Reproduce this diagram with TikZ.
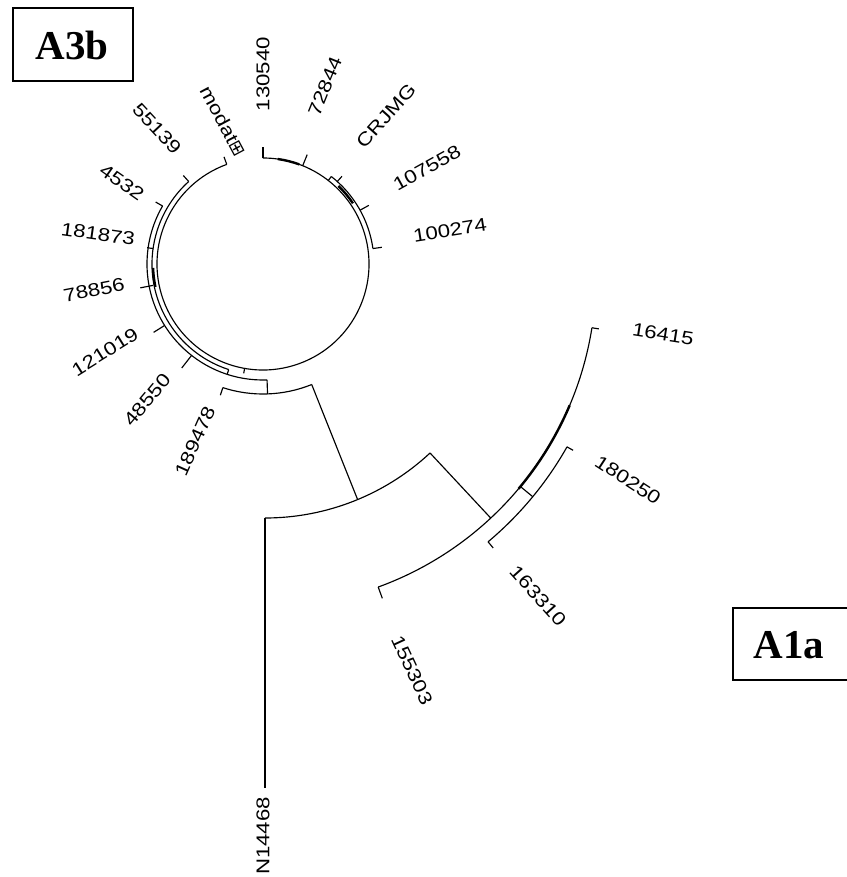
\documentclass[tikz,border=0pt]{standalone}
\usepackage{fontspec}
\newfontfamily\lblfont[FakeStretch=1.2]{Liberation Sans}
\newfontfamily\boxfont{Liberation Serif}
\newfontfamily\symfont{DejaVu Sans}
\begin{document}
\begin{tikzpicture}[x=1pt,y=1pt,
  br/.style={line width=1.15pt},
  thk/.style={line width=2.4pt},
  lbl/.style={font=\lblfont\fontsize{18.5}{20}\selectfont, inner sep=0pt},
  tagtext/.style={font=\boxfont\bfseries\fontsize{41}{41}\selectfont, inner sep=0pt},
  tagframe/.style={line width=1.6pt}]
\useasboundingbox (0,0) rectangle (846,-877);
% label boxes
\draw[tagframe] (13,-8) rectangle (133,-81);
\node[tagtext] (tA3b) at (72,-45) {A3b};
\draw[tagframe] (733,-608) rectangle (852,-680);
\node[tagtext] (tA1a) at (789,-645) {A1a};
% centres
\coordinate (C0) at (265,-276);
\coordinate (C1) at (263,-264);
% root
\coordinate (root) at ([shift={(-90:242)}]C0);
\coordinate (nleaf) at (265,-788);
\draw[br] (root) -- (nleaf);
\draw[br] (root) arc[start angle=-90,end angle=-47,radius=242];
% A1a clade
\coordinate (a1in) at ([shift={(-47:242)}]C0);
\coordinate (a1out) at ([shift={(-47:331)}]C0);
\draw[br] (a1in) -- (a1out);
\draw[br] ([shift={(-70:331)}]C0) arc[start angle=-70,end angle=-9,radius=331];
\draw[thk] ([shift={(-40:331)}]C0) arc[start angle=-40,end angle=-23,radius=331];
\draw[br] ([shift={(-70:331)}]C0) -- ([shift={(-70:343)}]C0);
\draw[br] ([shift={(-9:331)}]C0) -- ([shift={(-9:338)}]C0);
\draw[br] ([shift={(-39.5:331)}]C0) -- ([shift={(-39.5:347)}]C0);
\draw[br] ([shift={(-50:347)}]C0) arc[start angle=-50,end angle=-29.5,radius=347];
\draw[br] ([shift={(-50:347)}]C0) -- ([shift={(-50:355)}]C0);
\draw[br] ([shift={(-29.5:347)}]C0) -- ([shift={(-29.5:354)}]C0);
% A3b connection
\coordinate (a3in) at ([shift={(-67.5:242)}]C0);
\coordinate (a3out) at ([shift={(-68:130)}]C1);
\draw[br] (a3in) -- (a3out);
% A3b clade
\draw[br] ([shift={(-108:130)}]C1) arc[start angle=-108,end angle=-68,radius=130];
\draw[br] ([shift={(-108:130)}]C1) -- ([shift={(-108:138)}]C1);
\draw[br] ([shift={(-88:130)}]C1) -- ([shift={(-88:116)}]C1);
\draw[br] ([shift={(-88:116)}]C1) arc[start angle=-88,end angle=-210,radius=116];
\draw[br] ([shift={(150:116)}]C1) -- ([shift={(150:124)}]C1);
\draw[br] ([shift={(-108:116)}]C1) -- ([shift={(-108:111)}]C1);
\draw[br] ([shift={(-108:111)}]C1) arc[start angle=-108,end angle=-228,radius=111];
\draw[br] ([shift={(132:111)}]C1) -- ([shift={(132:119)}]C1);
\draw[br] ([shift={(-100:111)}]C1) -- ([shift={(-100:106)}]C1);
% main circle
\draw[br] ([shift={(110:106)}]C1) arc[start angle=110,end angle=450,radius=106];
\draw[br] ([shift={(110:106)}]C1) -- ([shift={(110:114)}]C1);
\draw[br] ([shift={(90:106)}]C1) -- ([shift={(90:117)}]C1);
\draw[thk] ([shift={(70:106)}]C1) arc[start angle=70,end angle=82,radius=106];
\draw[br] ([shift={(68:106)}]C1) -- ([shift={(68:118)}]C1);
% right double line
\draw[br] ([shift={(52:106)}]C1) -- ([shift={(52:111)}]C1);
\draw[br] ([shift={(52:111)}]C1) arc[start angle=52,end angle=8,radius=111];
\draw[thk] ([shift={(46:108.5)}]C1) arc[start angle=46,end angle=34,radius=108.5];
\draw[br] ([shift={(48:111)}]C1) -- ([shift={(48:118)}]C1);
\draw[br] ([shift={(29:111)}]C1) -- ([shift={(29:121)}]C1);
\draw[br] ([shift={(8:111)}]C1) -- ([shift={(8:120)}]C1);
% left detail
\draw[br] ([shift={(172:111)}]C1) -- ([shift={(172:117)}]C1);
\draw[thk] ([shift={(182:110)}]C1) arc[start angle=182,end angle=192,radius=110];
\draw[br] ([shift={(191:112)}]C1) -- ([shift={(191:125)}]C1);
\draw[br] ([shift={(212:116)}]C1) -- ([shift={(212:129)}]C1);
\draw[br] ([shift={(232:116)}]C1) -- ([shift={(232:132)}]C1);
% labels
\node[lbl,rotate=90] (l130540) at (263,-74) {130540};
\node[lbl,rotate=68] (l72844) at (325,-86) {72844};
\node[lbl,rotate=48] (lCRJMG) at (386,-116) {CRJMG};
\node[lbl,rotate=29] (l107558) at (427,-168) {107558};
\node[lbl,rotate=9] (l100274) at (450,-230) {100274};
\node[lbl,rotate=-9] (l16415) at (663,-334) {16415};
\node[lbl,rotate=-33] (l180250) at (628,-480) {180250};
\node[lbl,rotate=-48] (l163310) at (538,-596) {163310};
\node[lbl,rotate=-65] (l155303) at (412,-670) {155303};
\node[lbl,rotate=90] (lN14468) at (263,-836) {N14468};
\node[lbl,rotate=66] (l189478) at (195,-441) {189478};
\node[lbl,rotate=50] (l48550) at (147,-400) {48550};
\node[lbl,rotate=32] (l121019) at (105,-352) {121019};
\node[lbl,rotate=11] (l78856) at (94,-290) {78856};
\node[lbl,rotate=-8] (l181873) at (98,-234) {181873};
\node[lbl,rotate=-35] (l4532) at (122,-182) {4532};
\node[lbl,rotate=-47] (l55139) at (157,-129) {55139};
\node[lbl,rotate=-62] (lmodat) at (223,-121) {modat{\symfont\fontsize{18}{18}\selectfont ⊞}};
\end{tikzpicture}
\end{document}
